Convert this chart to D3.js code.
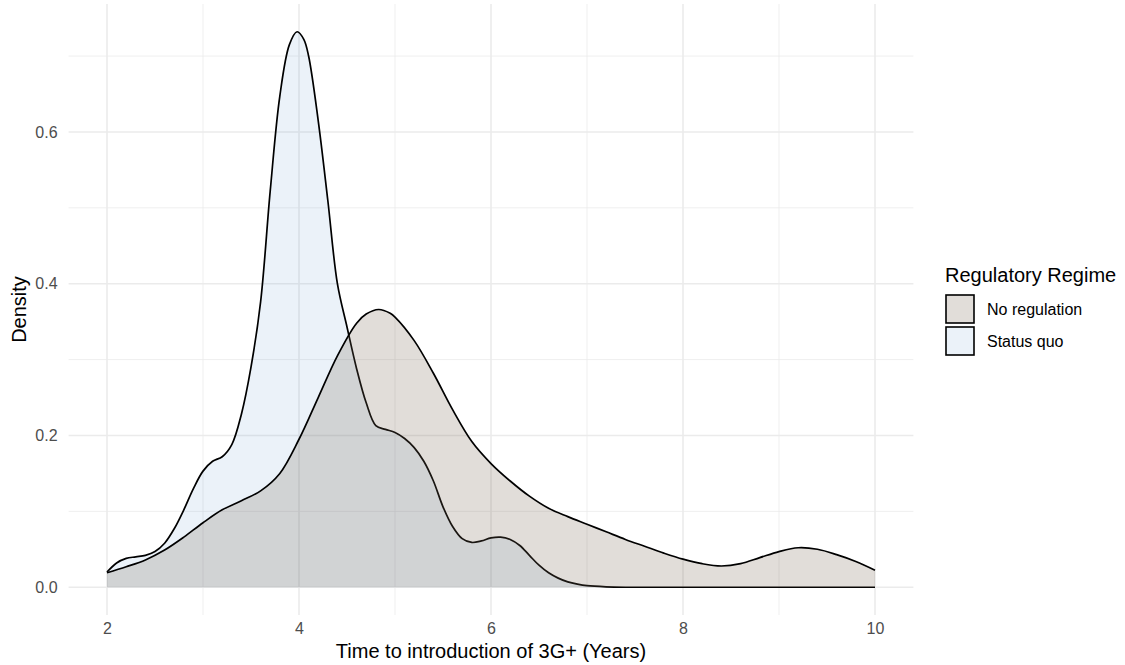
<!DOCTYPE html>
<html>
<head>
<meta charset="utf-8">
<script src="https://cdn.jsdelivr.net/npm/d3@7"></script>
<style>
  body { margin: 0; background: #fff; }
  text { font-family: "Liberation Sans", Arial, sans-serif; }
</style>
</head>
<body>
<div id="chart"></div>
<script>
// densities
var regimes = ["No regulation", "Status quo"];

var noRegX = [2.0, 2.2, 2.4, 2.6, 2.8, 3.0, 3.2, 3.4, 3.6, 3.8, 4.0, 4.2, 4.4, 4.6, 4.7, 4.83, 4.95,
              5.0, 5.2, 5.4, 5.6, 5.8, 6.0, 6.2, 6.4, 6.6, 6.8, 7.0, 7.2, 7.4, 7.6, 7.8, 8.0, 8.2, 8.4,
              8.6, 8.8, 9.0, 9.2, 9.4, 9.6, 9.8, 10.0];
var noRegY = [0.019, 0.027, 0.036, 0.049, 0.066, 0.085, 0.102, 0.114, 0.127, 0.150, 0.195, 0.250, 0.305, 0.348, 0.360, 0.366, 0.361,
              0.356, 0.325, 0.282, 0.234, 0.192, 0.163, 0.140, 0.120, 0.104, 0.093, 0.083, 0.073, 0.063, 0.054, 0.045, 0.037, 0.031, 0.028,
              0.031, 0.039, 0.047, 0.052, 0.050, 0.043, 0.034, 0.0225];

var statusX = [2.0, 2.1, 2.2, 2.3, 2.4, 2.5, 2.6, 2.7, 2.8, 2.9, 3.0, 3.1, 3.2, 3.3, 3.4, 3.5, 3.6, 3.7,
               3.8, 3.9, 3.98, 4.05, 4.1, 4.2, 4.3, 4.4, 4.5, 4.6, 4.7, 4.8, 4.9, 5.0, 5.1, 5.2, 5.3, 5.4,
               5.5, 5.6, 5.7, 5.8, 5.9, 6.0, 6.1, 6.2, 6.3, 6.4, 6.5, 6.6, 6.7, 6.8, 6.9, 7.0, 7.2, 7.4,
               8.0, 9.0, 10.0];
var statusY = [0.020, 0.032, 0.038, 0.040, 0.042, 0.047, 0.058, 0.077, 0.102, 0.130, 0.153, 0.166, 0.172, 0.188, 0.228, 0.290, 0.376, 0.522,
               0.647, 0.715, 0.732, 0.722, 0.700, 0.615, 0.510, 0.400, 0.343, 0.288, 0.243, 0.213, 0.208, 0.204, 0.196, 0.184, 0.166, 0.140,
               0.106, 0.080, 0.064, 0.059, 0.061, 0.065, 0.066, 0.063, 0.055, 0.042, 0.029, 0.019, 0.012, 0.007, 0.004, 0.002, 0.0005, 0.0,
               0.0, 0.0, 0.0];

var xTicks = [2, 4, 6, 8, 10];
var xMinor = [3, 5, 7, 9];
var yTicks = [0, 0.2, 0.4, 0.6];
var yMinor = [0.1, 0.3, 0.5, 0.7];

var fills = {"No regulation": "rgba(120,100,80,0.22)", "Status quo": "rgba(60,130,200,0.1)"};

var W = 1125, H = 665;
var pLeft = 68.6, pRight = 913.4, pTop = 4, pBottom = 615;

var svg = d3.select("#chart").append("svg").attr("width", W).attr("height", H);

var yMax = d3.max(noRegY.concat(statusY));
var x = d3.scaleLinear().domain([1.6, 10.4]).range([pLeft, pRight]);
var y = d3.scaleLinear().domain([-yMax * 0.05, yMax * 1.05]).range([pBottom, pTop]);

// grid
var grid = svg.append("g");
grid.selectAll(".ymin").data(yMinor).enter().append("line")
    .attr("x1", pLeft).attr("x2", pRight)
    .attr("y1", function(d){ return y(d); }).attr("y2", function(d){ return y(d); })
    .attr("stroke", "#ebebeb").attr("stroke-width", 0.8);
grid.selectAll(".xmin").data(xMinor).enter().append("line")
    .attr("y1", pTop).attr("y2", pBottom)
    .attr("x1", function(d){ return x(d); }).attr("x2", function(d){ return x(d); })
    .attr("stroke", "#ebebeb").attr("stroke-width", 0.8);
grid.selectAll(".ymaj").data(yTicks).enter().append("line")
    .attr("x1", pLeft).attr("x2", pRight)
    .attr("y1", function(d){ return y(d); }).attr("y2", function(d){ return y(d); })
    .attr("stroke", "#ebebeb").attr("stroke-width", 1.6);
grid.selectAll(".xmaj").data(xTicks).enter().append("line")
    .attr("y1", pTop).attr("y2", pBottom)
    .attr("x1", function(d){ return x(d); }).attr("x2", function(d){ return x(d); })
    .attr("stroke", "#ebebeb").attr("stroke-width", 1.6);

// axes (text only)
var xAxis = svg.append("g").attr("transform", "translate(0," + (pBottom + 2) + ")")
    .call(d3.axisBottom(x).tickValues(xTicks).tickSize(0).tickPadding(6).tickFormat(d3.format("d")));
var yAxis = svg.append("g").attr("transform", "translate(" + (pLeft - 10) + ",0)")
    .call(d3.axisLeft(y).tickValues(yTicks).tickSize(0).tickPadding(1).tickFormat(d3.format(".1f")));
[xAxis, yAxis].forEach(function(a){
    a.select(".domain").remove();
    a.selectAll("text").attr("fill", "#4d4d4d").attr("font-size", 16)
        .style("font-family", "'Liberation Sans', Arial, sans-serif");
});

// densities
function drawDensity(xs, ys, name) {
    var pts = xs.map(function(d, i){ return [d, ys[i]]; });
    var curve = d3.curveCatmullRom.alpha(0.5);
    var area = d3.area().curve(curve)
        .x(function(d){ return x(d[0]); })
        .y0(y(0)).y1(function(d){ return y(d[1]); });
    var line = d3.line().curve(curve)
        .x(function(d){ return x(d[0]); })
        .y(function(d){ return y(d[1]); });
    svg.append("path").datum(pts).attr("d", area).attr("fill", fills[name]);
    svg.append("path").datum(pts).attr("d", line).attr("fill", "none")
        .attr("stroke", "#000").attr("stroke-width", 1.7);
}
drawDensity(statusX, statusY, "Status quo");
drawDensity(noRegX, noRegY, "No regulation");

// titles
svg.append("text").attr("x", (pLeft + pRight) / 2).attr("y", 658)
    .attr("text-anchor", "middle").attr("font-size", 20).attr("fill", "#000")
    .text("Time to introduction of 3G+ (Years)");
svg.append("text").attr("transform", "translate(26," + ((pTop + pBottom) / 2) + ") rotate(-90)")
    .attr("text-anchor", "middle").attr("font-size", 20).attr("fill", "#000")
    .text("Density");

// legend
var legend = svg.append("g").attr("transform", "translate(945,0)");
legend.append("text").attr("x", 0).attr("y", 282).attr("font-size", 20).attr("fill", "#000")
    .text("Regulatory Regime");
var keys = legend.selectAll(".key").data(regimes).enter().append("g")
    .attr("transform", function(d, i){ return "translate(0," + (294 + i * 32) + ")"; });
keys.append("rect").attr("x", 1).attr("y", 1).attr("width", 28).attr("height", 28)
    .attr("fill", function(d){ return fills[d]; })
    .attr("stroke", "#000").attr("stroke-width", 1.6);
keys.append("text").attr("x", 42).attr("y", 15).attr("dy", "0.35em")
    .attr("font-size", 16).attr("fill", "#000")
    .text(function(d){ return d; });
</script>
</body>
</html>
